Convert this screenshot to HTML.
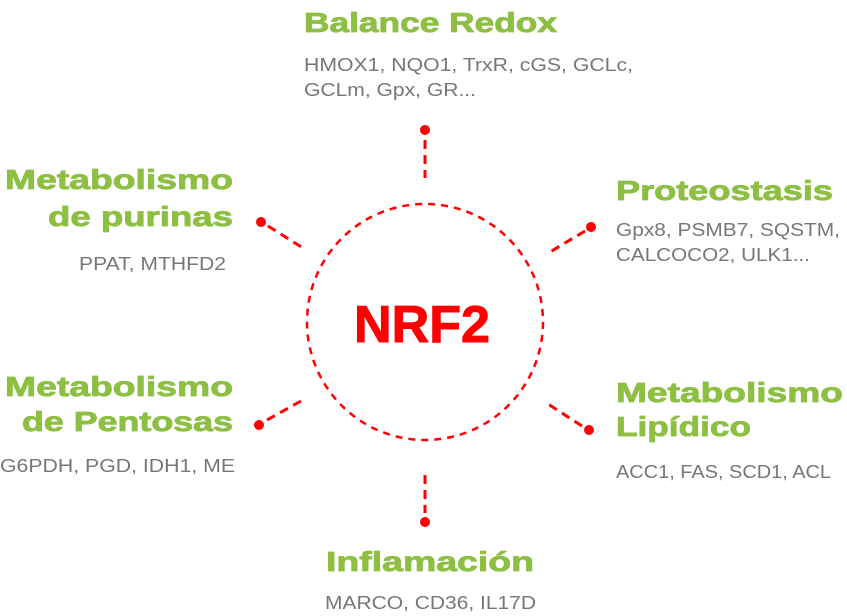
<!DOCTYPE html>
<html><head><meta charset="utf-8"><style>
html,body{margin:0;padding:0;background:#fff;}
svg{display:block;}
.g{font-family:"Liberation Sans",sans-serif;font-weight:bold;font-size:28px;fill:#8cbf42;stroke:#8cbf42;stroke-width:0.8;}
.t{font-family:"Liberation Sans",sans-serif;font-size:18px;fill:#777;}
</style></head><body>
<svg width="847" height="616" viewBox="0 0 847 616" xmlns="http://www.w3.org/2000/svg">
<g stroke="#f00" stroke-width="3" fill="none" stroke-dasharray="9 6">
<circle cx="425" cy="322" r="118" stroke-width="2.5" stroke-dasharray="7 6"/>
<line x1="425" y1="140" x2="425" y2="178"/>
<line x1="425" y1="475" x2="425" y2="513"/>
<line x1="268" y1="226" x2="303" y2="248"/>
<line x1="585" y1="231" x2="550" y2="252"/>
<line x1="267" y1="420" x2="301" y2="401"/>
<line x1="582" y1="426" x2="548" y2="404"/>
</g>
<g fill="#f00">
<circle cx="425" cy="130" r="5"/>
<circle cx="425" cy="522" r="5"/>
<circle cx="261" cy="222" r="5"/>
<circle cx="591" cy="227" r="5"/>
<circle cx="259" cy="425" r="5"/>
<circle cx="589" cy="430" r="5"/>
</g>
<text x="422" y="342" text-anchor="middle" font-family="Liberation Sans,sans-serif" font-weight="bold" font-size="52" fill="#f00" stroke="#f00" stroke-width="1" textLength="136" lengthAdjust="spacingAndGlyphs">NRF2</text>

<text class="g" x="304" y="32" textLength="253" lengthAdjust="spacingAndGlyphs">Balance Redox</text>
<text class="t" x="304" y="71" textLength="329" lengthAdjust="spacingAndGlyphs">HMOX1, NQO1, TrxR, cGS, GCLc,</text>
<text class="t" x="304" y="96" textLength="172" lengthAdjust="spacingAndGlyphs">GCLm, Gpx, GR...</text>

<text class="g" x="616" y="200" textLength="217" lengthAdjust="spacingAndGlyphs">Proteostasis</text>
<text class="t" x="616" y="236" textLength="224" lengthAdjust="spacingAndGlyphs">Gpx8, PSMB7, SQSTM,</text>
<text class="t" x="616" y="261" textLength="194" lengthAdjust="spacingAndGlyphs">CALCOCO2, ULK1...</text>

<text class="g" x="5" y="189" textLength="228" lengthAdjust="spacingAndGlyphs">Metabolismo</text>
<text class="g" x="48" y="226" textLength="185" lengthAdjust="spacingAndGlyphs">de purinas</text>
<text class="t" x="79" y="270" textLength="147" lengthAdjust="spacingAndGlyphs">PPAT, MTHFD2</text>

<text class="g" x="5" y="396" textLength="228" lengthAdjust="spacingAndGlyphs">Metabolismo</text>
<text class="g" x="22" y="431" textLength="211" lengthAdjust="spacingAndGlyphs">de Pentosas</text>
<text class="t" x="0" y="472" textLength="235" lengthAdjust="spacingAndGlyphs">G6PDH, PGD, IDH1, ME</text>

<text class="g" x="616" y="402" textLength="227" lengthAdjust="spacingAndGlyphs">Metabolismo</text>
<text class="g" x="616" y="436" textLength="135" lengthAdjust="spacingAndGlyphs">Lipídico</text>
<text class="t" x="616" y="478" textLength="215" lengthAdjust="spacingAndGlyphs">ACC1, FAS, SCD1, ACL</text>

<text class="g" x="326" y="571" textLength="208" lengthAdjust="spacingAndGlyphs">Inflamación</text>
<text class="t" x="325" y="609" textLength="211" lengthAdjust="spacingAndGlyphs">MARCO, CD36, IL17D</text>
</svg>
</body></html>
